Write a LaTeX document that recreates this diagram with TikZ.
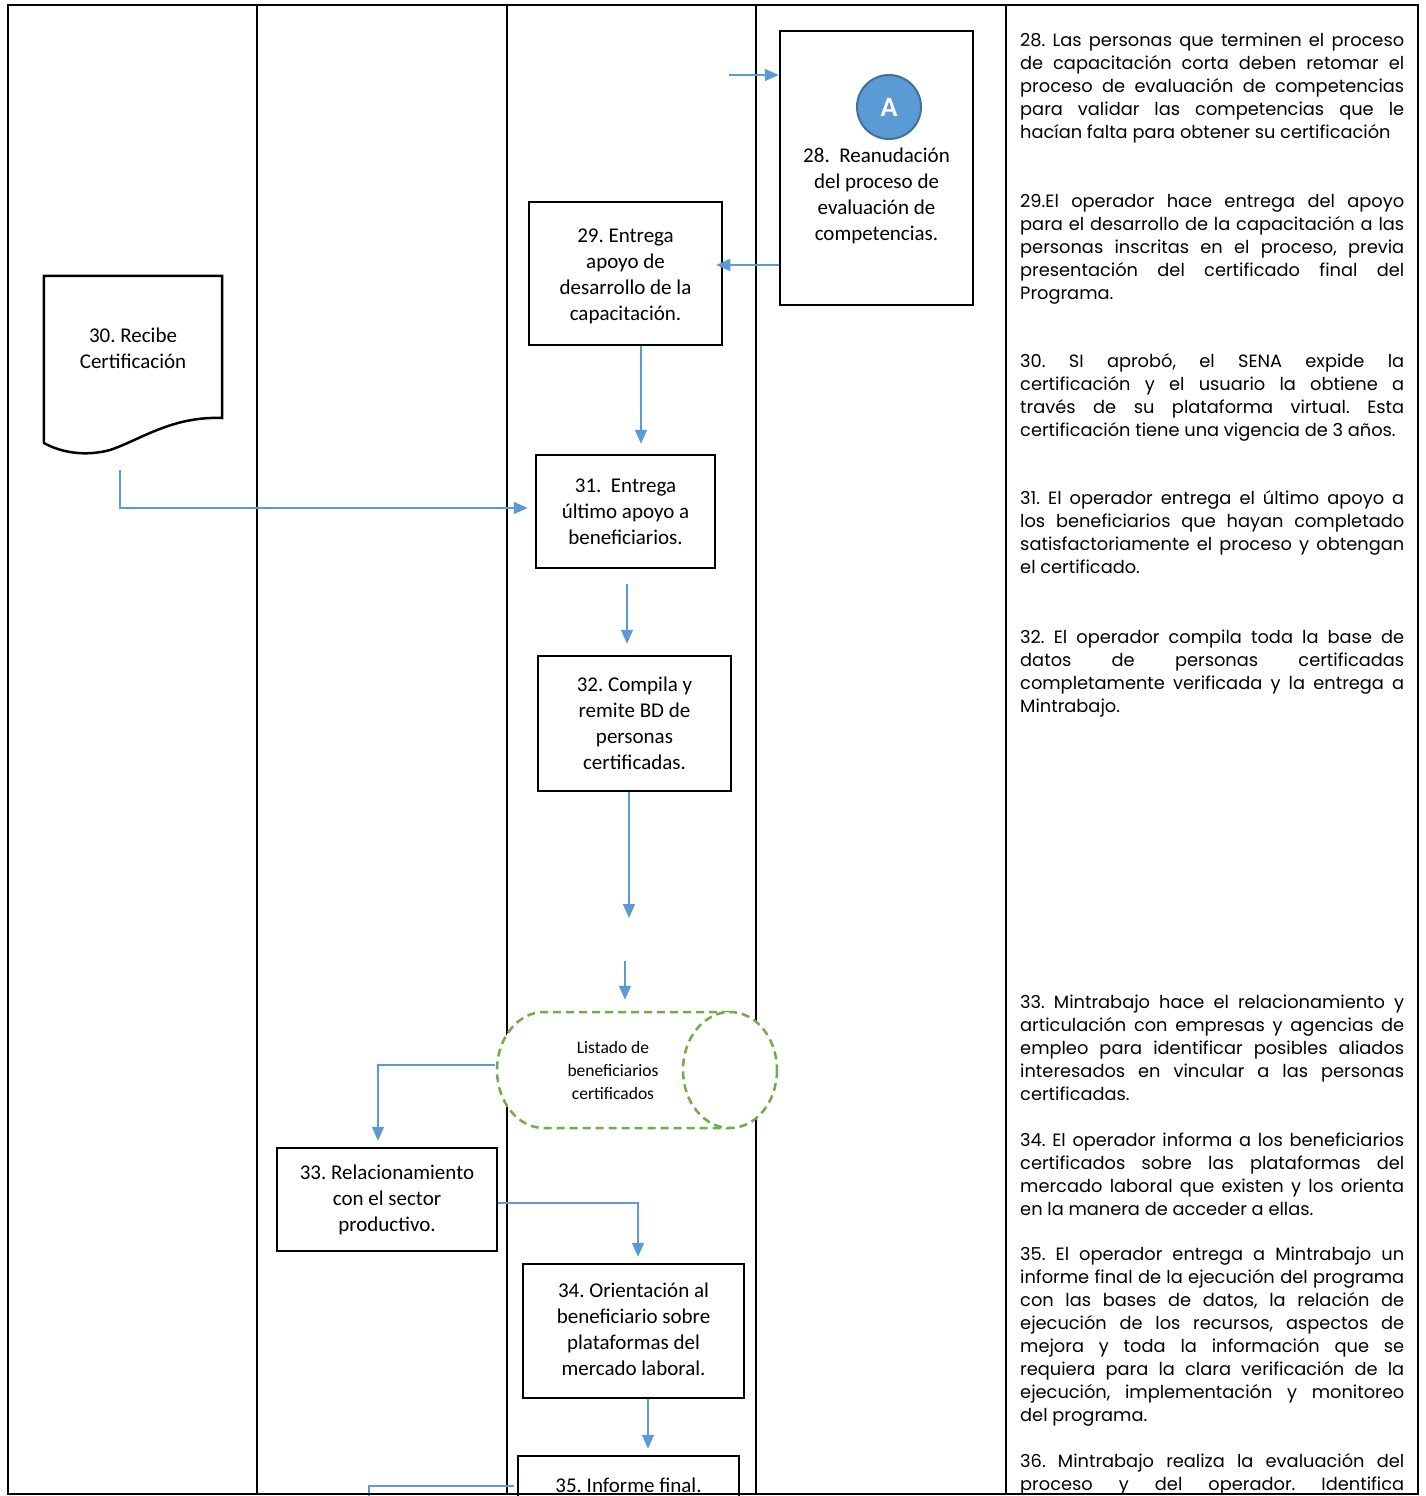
\documentclass[tikz,border=0pt]{standalone}
\usepackage{fontspec}
\setmainfont{Carlito}
\newfontfamily\gothic{Poppins}
\usetikzlibrary{arrows.meta,calc}
\definecolor{ablue}{HTML}{5B9BD5}
\definecolor{dblue}{HTML}{41719C}
\definecolor{lgreen}{HTML}{70AD47}
\frenchspacing
\tikzset{
 box/.style={draw, fill=white, line width=2.5pt, inner sep=0pt, align=center, font=\fontsize{21}{26}\selectfont},
 ghost/.style={inner sep=0pt},
 btext/.style={inner sep=0pt, align=center, font=\fontsize{21}{26}\selectfont},
 arr/.style={draw=ablue, line width=1.5pt, -{Triangle[length=14pt,width=12pt]}},
 lane/.style={line width=2.5pt},
 desc/.style={anchor=base west, inner sep=0pt},
}
\newcommand{\jl}[1]{\makebox[384pt][s]{#1}}
\newcommand{\dsc}[1]{\parbox[t]{384pt}{\gothic\fontsize{17.8}{23}\selectfont\frenchspacing #1}}
\begin{document}
\begin{tikzpicture}[x=1pt,y=-1pt]
\useasboundingbox (0,0) rectangle (1426,1496);
\clip (0,0) rectangle (1426,1496);
% lanes
\draw[lane] (8,5) rectangle (1418,1494);
\foreach \xx in {257,507,756,1006} \draw[lane] (\xx,5) -- (\xx,1494);

% box 28
\node[box, minimum width=193pt, minimum height=274pt] (b28) at (876.5,168) {};
\node[btext] (t28) at (876.5,196) {28.\ \ Reanudación\\del proceso de\\evaluación de\\competencias.};
\node[circle, fill=ablue, draw=dblue, line width=2pt, minimum size=64pt, inner sep=0pt,
      text=white, font=\bfseries\fontsize{28}{28}\selectfont] (cA) at (889,107) {A};

% box 29
\node[box, minimum width=193pt, minimum height=143pt] (b29) at (625.5,273.5) {};
\node[btext] (t29) at (625.5,276.5) {29. Entrega\\apoyo de\\desarrollo de la\\capacitación.};
% box 31
\node[box, minimum width=179pt, minimum height=113pt] (b31) at (625.5,511.5) {31.\ \ Entrega\\último apoyo a\\beneficiarios.};
% box 32
\node[box, minimum width=193pt, minimum height=135pt] (b32) at (634.5,723.5) {32. Compila y\\remite BD de\\personas\\certificadas.};
% box 33
\node[box, minimum width=220pt, minimum height=103pt] (b33) at (387,1199.5) {33. Relacionamiento\\con el sector\\productivo.};
% box 34
\node[box, minimum width=221pt, minimum height=134pt] (b34) at (633.5,1331) {};
\node[btext] (t34) at (633.5,1329) {34. Orientación al\\beneficiario sobre\\plataformas del\\mercado laboral.};
% box 35
\node[box, minimum width=221pt, minimum height=58pt] (b35) at (628.5,1485) {35. Informe final.};

% document 30
\node[ghost, minimum width=178pt, minimum height=177pt] (d30) at (133,364.5) {};
\draw[line width=2.5pt, fill=white] (d30.north west) -- (d30.north east) -- (222,418)
  .. controls (172,416) and (140,440) .. (110,450)
  .. controls (84,457) and (60,452) .. (44,443) -- cycle;
\node[btext] (t30) at (133,348) {30. Recibe\\Certificación};

% cylinder
\node[ghost, minimum width=280pt, minimum height=116pt] (cyl) at (637,1070) {};
\draw[lgreen, line width=2.5pt, dash pattern=on 8pt off 5pt, fill=white]
  (730,1012) -- (544,1012) arc[start angle=270, end angle=90, x radius=47, y radius=58] -- (730,1128);
\draw[lgreen, line width=2.5pt, dash pattern=on 8pt off 5pt, fill=white] (730,1070) ellipse [x radius=47, y radius=58];
\node[inner sep=0pt, align=center, font=\fontsize{17.5}{23}\selectfont] (tcyl) at (613,1070) {Listado de\\beneficiarios\\certificados};

% connectors
\coordinate (in28) at (729,75);
\draw[arr] (in28) -- (b28.west |- in28);
\draw[arr] (b28.west |- 0,265) -- ($(b29.east |- 0,265)+(-7,0)$);
\draw[arr] (b29.south -| 641,0) -- ($(b31.north -| 641,0)+(0,-10)$);
\draw[arr] ($(b31.south -| 627,0)+(0,15)$) -- ($(b32.north -| 627,0)+(0,-11)$);
\coordinate (c1) at (629,918);
\draw[arr] (b32.south -| c1) -- (c1);
\coordinate (c2) at (625,961);
\draw[arr] (c2) -- ($(cyl.north -| c2)+(0,-12)$);
\draw[arr] ($(d30.south -| 120,0)+(0,17)$) -- (120,508) -- ($(b31.west |- 0,508)+(-7,0)$);
\draw[arr] ($(cyl.west |- 0,1065)+(-2,0)$) -- (378,1065) -- ($(b33.north -| 378,0)+(0,-6)$);
\draw[arr] (b33.east |- 0,1203) -- (638,1203) -- ($(b34.north -| 638,0)+(0,-6)$);
\draw[arr] (b34.south -| 648,0) -- ($(b35.north -| 648,0)+(0,-6)$);
\coordinate (out35) at (369,1520);
\draw[draw=ablue, line width=1.5pt] ($(b35.west |- 0,1486)+(-3,0)$) -- (out35 |- 0,1486) -- (out35);

% descriptions
\begin{scope}[every node/.style={desc}]
\node (p28) at (1020,47) {\dsc{\jl{28. Las personas que terminen el proceso}\\\jl{de capacitación corta deben retomar el}\\\jl{proceso de evaluación de competencias}\\\jl{para validar las competencias que le}\\hacían falta para obtener su certificación}};
\node (p29) at (1020,207) {\dsc{\jl{29.El operador hace entrega del apoyo}\\\jl{para el desarrollo de la capacitación a las}\\\jl{personas inscritas en el proceso, previa}\\\jl{presentación del certificado final del}\\Programa.}};
\node (p30) at (1020,367) {\dsc{\jl{30. SI aprobó, el SENA expide la}\\\jl{certificación y el usuario la obtiene a}\\\jl{través de su plataforma virtual. Esta}\\certificación tiene una vigencia de 3 años.}};
\node (p31) at (1020,504) {\dsc{\jl{31. El operador entrega el último apoyo a}\\\jl{los beneficiarios que hayan completado}\\\jl{satisfactoriamente el proceso y obtengan}\\el certificado.}};
\node (p32) at (1020,643) {\dsc{\jl{32. El operador compila toda la base de}\\\jl{datos de personas certificadas}\\\jl{completamente verificada y la entrega a}\\Mintrabajo.}};
\node (p33) at (1020,1008) {\dsc{\jl{33. Mintrabajo hace el relacionamiento y}\\\jl{articulación con empresas y agencias de}\\\jl{empleo para identificar posibles aliados}\\\jl{interesados en vincular a las personas}\\certificadas.}};
\node (p34) at (1020,1146) {\dsc{\jl{34. El operador informa a los beneficiarios}\\\jl{certificados sobre las plataformas del}\\\jl{mercado laboral que existen y los orienta}\\en la manera de acceder a ellas.}};
\node (p35) at (1020,1260) {\dsc{\jl{35. El operador entrega a Mintrabajo un}\\\jl{informe final de la ejecución del programa}\\\jl{con las bases de datos, la relación de}\\\jl{ejecución de los recursos, aspectos de}\\\jl{mejora y toda la información que se}\\\jl{requiera para la clara verificación de la}\\\jl{ejecución, implementación y monitoreo}\\del programa.}};
\node (p36) at (1020,1467) {\dsc{\jl{36. Mintrabajo realiza la evaluación del}\\\jl{proceso y del operador. Identifica}}};
\end{scope}
% bottom border redrawn over box 35
\draw[lane] (8,1494) -- (1418,1494);
\end{tikzpicture}
\end{document}
